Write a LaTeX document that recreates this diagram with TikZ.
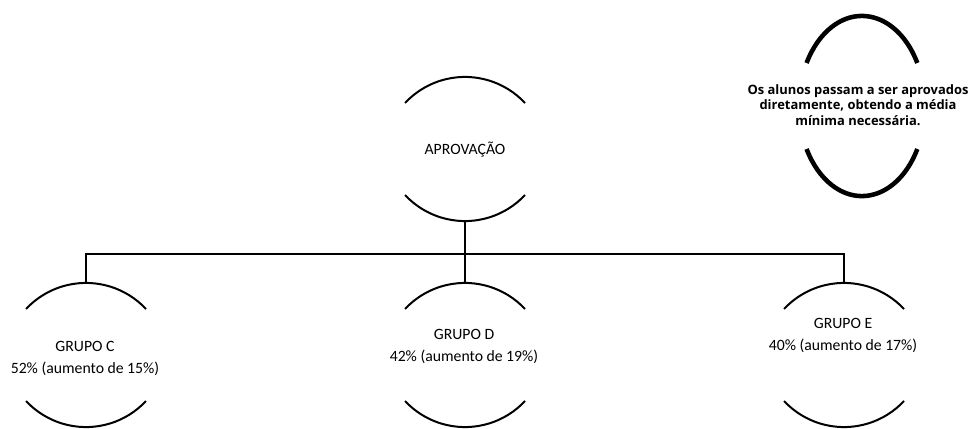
\documentclass[tikz,border=0pt]{standalone}
\usepackage{fontspec}
\setmainfont{Carlito}
\newfontfamily\boldfont{Open Sans}
\begin{document}
\begin{tikzpicture}[x=0.75pt,y=-0.75pt,
  shapebox/.style={circle,minimum size=108pt,inner sep=0pt,draw=none},
  lbl/.style={align=center,inner sep=0pt,font=\fontsize{11.8}{16.5}\selectfont},
  thin/.style={line width=1.5pt,black},
  thick/.style={line width=3.4pt,black}]
\useasboundingbox[fill=white] (0,0) rectangle (977,428);
% shape holders
\node[shapebox] (apr) at (465,149) {};
\node[shapebox] (gc) at (86,355) {};
\node[shapebox] (gd) at (465,355) {};
\node[shapebox] (ge) at (844,355) {};
% arcs
\foreach \n in {apr,gc,gd,ge}{
  \draw[thin] ([shift={(60,-46)}]\n.center) arc[start angle=-43,end angle=-137,radius=82];
  \draw[thin] ([shift={(60,46)}]\n.center) arc[start angle=43,end angle=137,radius=82];
}
% labels
\node[lbl] (tapr) at (465,150) {APROVAÇÃO};
\node[lbl] (tc) at (85,358) {GRUPO C\\52\% (aumento de 15\%)};
\node[lbl] (td) at (464,346) {GRUPO D\\42\% (aumento de 19\%)};
\node[lbl] (te) at (843,335) {GRUPO E\\40\% (aumento de 17\%)};
% connectors
\coordinate (bar) at (465,254);
\draw[thin] (apr.south) -- (gd.north);
\draw[thin] (gc.north) |- (bar) -| (ge.north);
% right ellipse note
\coordinate (ell) at (862,106);
\draw[thick] ([shift={(55.3,-43)}]ell) arc[start angle=-28.5,end angle=-151.5,x radius=63,y radius=90];
\draw[thick] ([shift={(55.3,43)}]ell) arc[start angle=28.5,end angle=151.5,x radius=63,y radius=90];
\node[align=center,inner sep=0pt,font=\boldfont\bfseries\fontsize{9.7}{11.4}\selectfont] (note) at (858,105)
  {Os alunos passam a ser aprovados\\diretamente, obtendo a média\\mínima necessária.};
\end{tikzpicture}
\end{document}
